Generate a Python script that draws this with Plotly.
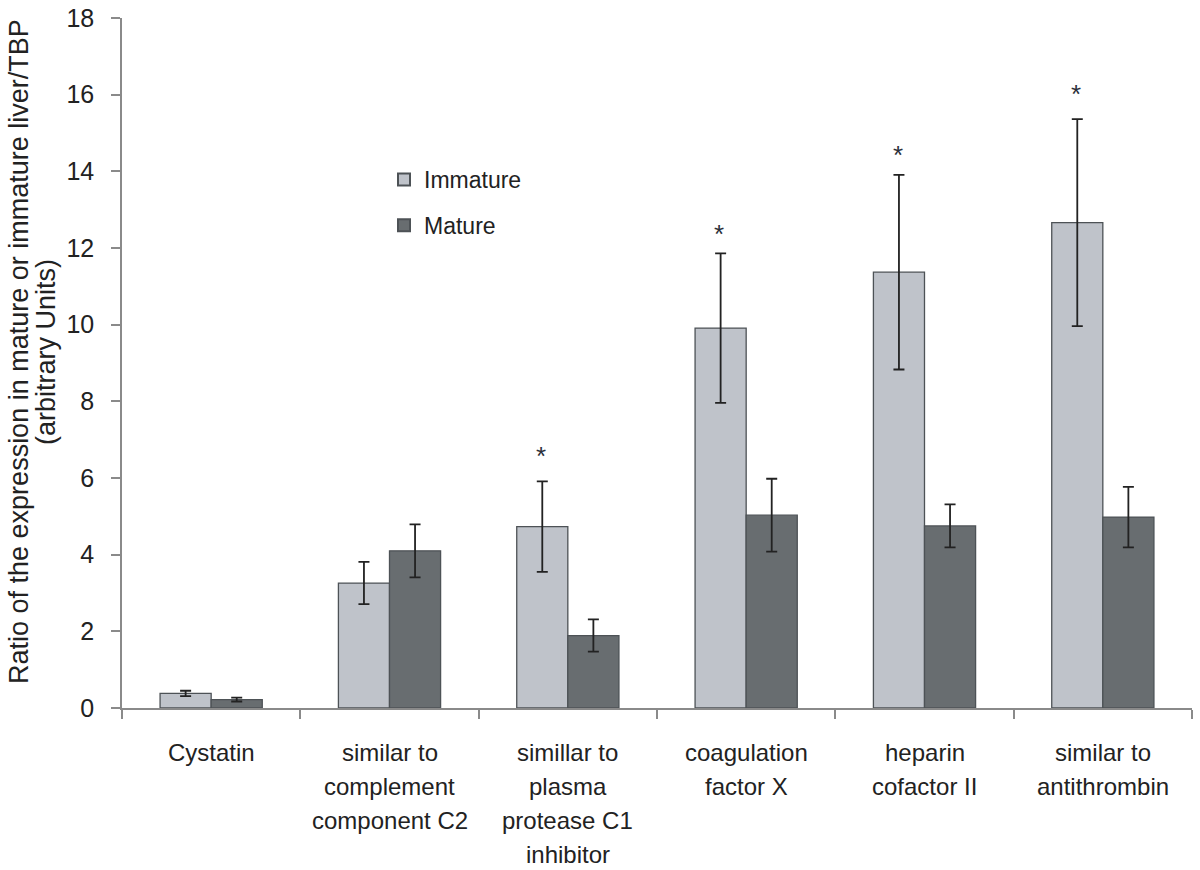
import plotly.graph_objects as go

categories = ["Cystatin", "C2", "C1 inhibitor", "factor X", "cofactor II", "antithrombin"]
category_lines = [
    ["Cystatin"],
    ["similar to", "complement", "component C2"],
    ["simillar to", "plasma", "protease C1", "inhibitor"],
    ["coagulation", "factor X"],
    ["heparin", "cofactor II"],
    ["similar to", "antithrombin"],
]
immature = [0.38, 3.26, 4.73, 9.91, 11.37, 12.66]
immature_err = [0.07, 0.55, 1.18, 1.95, 2.54, 2.70]
mature = [0.22, 4.10, 1.89, 5.03, 4.75, 4.98]
mature_err = [0.05, 0.69, 0.42, 0.95, 0.56, 0.79]
star_categories = ["C1 inhibitor", "factor X", "cofactor II", "antithrombin"]
star_values = [6.64, 12.45, 14.51, 16.1]
y_ticks = [0, 2, 4, 6, 8, 10, 12, 14, 16, 18]
y_title_lines = ["Ratio of the expression in mature or immature liver/TBP", "(arbitrary Units)"]

FONT = "Liberation Sans, Arial, sans-serif"
W, H = 1200, 870
L, R, T, B = 122, 8, 18, 162
PW, PH = W - L - R, H - T - B


def px_x(page_x):
    return (page_x - L) / PW


def px_y(page_y):
    return 1 - (page_y - T) / PH


fig = go.Figure()
fig.add_trace(go.Bar(
    x=categories, y=immature, name="Immature", legendgroup="a",
    marker=dict(color="#BFC3CA", line=dict(color="#4d5256", width=1.3)),
    error_y=dict(type="data", array=immature_err, color="#222222", thickness=1.8, width=5.5),
))
fig.add_trace(go.Bar(
    x=categories, y=mature, name="Mature", legendgroup="b",
    marker=dict(color="#686D70", line=dict(color="#4d5256", width=1.3)),
    error_y=dict(type="data", array=mature_err, color="#222222", thickness=1.8, width=5.5),
))

annotations = []
for cat, v in zip(star_categories, star_values):
    annotations.append(dict(x=cat, y=v, xref="x", yref="y", text="*", showarrow=False,
                            xshift=-27, yshift=-3, font=dict(family=FONT, size=26, color="#2b2f3a")))
for cat, lines in zip(categories, category_lines):
    for i, line in enumerate(lines):
        annotations.append(dict(x=cat, y=0, xref="x", yref="y", text=line, showarrow=False,
                                yanchor="top", yshift=-29 - 34 * i,
                                font=dict(family=FONT, size=24, color="#222222")))
for i, line in enumerate(y_title_lines):
    annotations.append(dict(x=px_x(19 + 27 * i), y=px_y(352), xref="paper", yref="paper",
                            text=line, textangle=-90, showarrow=False,
                            xanchor="center", yanchor="middle",
                            font=dict(family=FONT, size=27, color="#222222")))

fig.update_layout(
    width=W, height=H,
    margin=dict(l=L, r=R, t=T, b=B, autoexpand=False),
    paper_bgcolor="white", plot_bgcolor="white",
    barmode="group", bargap=0.427, bargroupgap=0,
    font=dict(family=FONT, size=22, color="#222222"),
    showlegend=True,
    legend=dict(x=px_x(384), y=px_y(158), xanchor="left", yanchor="top",
                font=dict(family=FONT, size=23, color="#222222"), bgcolor="rgba(0,0,0,0)",
                tracegroupgap=13, itemsizing="constant"),
    annotations=annotations,
)
fig.update_xaxes(
    automargin=False,
    showline=True, linecolor="#8a8a8a", linewidth=1.5,
    ticks="outside", ticklen=9, tickcolor="#8a8a8a", tickwidth=1.5,
    tickson="boundaries", showticklabels=False, showgrid=False,
)
fig.update_yaxes(
    automargin=False,
    range=[0, 18], tickvals=y_ticks, ticktext=[str(v) for v in y_ticks],
    showline=True, linecolor="#8a8a8a", linewidth=1.5,
    ticks="outside", ticklen=9, tickcolor="#8a8a8a", tickwidth=1.5,
    ticklabelstandoff=12, ticklabeloverflow="allow",
    showgrid=False, zeroline=False,
    tickfont=dict(family=FONT, size=25, color="#222222"),
)

fig.write_html("out.html", config={"displayModeBar": False},
               post_script="document.body.style.margin='0';")
